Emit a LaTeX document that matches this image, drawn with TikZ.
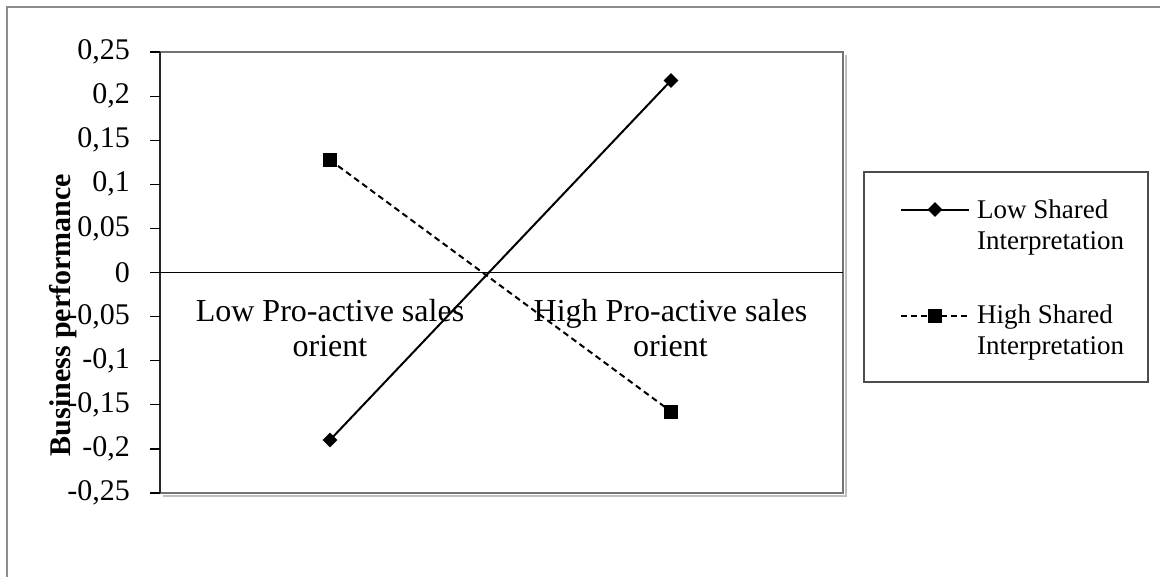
\documentclass[tikz,border=0pt]{standalone}
\usepackage{fontspec}
\setmainfont{Liberation Serif}
\usetikzlibrary{shapes.geometric}
\begin{document}
\begin{tikzpicture}[x=1pt,y=-1pt,
  dia/.style={diamond,fill=black,inner sep=0pt,minimum width=15pt,minimum height=15pt},
  sq/.style={rectangle,fill=black,inner sep=0pt,minimum size=14pt},
  solidser/.style={line width=2pt},
  dashser/.style={line width=2pt,dash pattern=on 6pt off 4pt},
  ticklab/.style={anchor=east,font=\fontsize{30}{32}\selectfont,inner sep=0pt},
  catlab/.style={align=center,font=\fontsize{32}{35}\selectfont,inner sep=0pt},
  legtext/.style={anchor=north west,align=left,font=\fontsize{27}{31}\selectfont,inner sep=0pt},
  frame/.style={draw=black!45,line width=1.5pt}]
\useasboundingbox (0,0) rectangle (1160,576);
\fill[white] (0,0) rectangle (1160,576);
% outer chart frame (runs off the right and bottom edges)
\draw[frame] (1175,7) -- (7,7) -- (7,590);

% plot area with its shadow
\draw[black!25,line width=2pt] (846,55) -- (846,496) -- (163,496);
\draw[black!55,line width=1.5pt] (160,52) rectangle (843,493);
% value axis and ticks
\draw[black!85,line width=1.5pt] (160,52) -- (160,493);
\foreach \k/\t in {0/{0,25},1/{0,2},2/{0,15},3/{0,1},4/{0,05},5/{0},6/{-0,05},7/{-0,1},8/{-0,15},9/{-0,2},10/{-0,25}}{
  \draw[black,line width=1.2pt] (150,52+\k*44.1) -- (160,52+\k*44.1);
  \node[ticklab] (t\k) at (130,52+\k*44.1) {\t};
}
% zero line
\draw[black,line width=1.2pt] (160,272.5) -- (843,272.5);

% axis title
\node[rotate=90,inner sep=0pt,font=\bfseries\fontsize{30}{32}\selectfont] (ytitle) at (63,315) {Business performance};

% category labels
\node[catlab] (c1) at (330,328) {Low Pro-active sales\\orient};
\node[catlab] (c2) at (670.5,328) {High Pro-active sales\\orient};

% data points
\node[dia] (l1) at (330,440) {};
\node[dia] (l2) at (671,80.5) {};
\node[sq] (h1) at (330,160) {};
\node[sq] (h2) at (671,411.5) {};
\draw[solidser] (l1.center) -- (l2.center);
\draw[dashser] (h1.center) -- (h2.center);

% legend
\draw[black!70,line width=1.5pt] (864,172) rectangle (1148,382);
\coordinate (la) at (901,209.5);
\coordinate (lb) at (969,209.5);
\draw[solidser] (la) -- (lb);
\node[dia] (lm1) at (935,209.5) {};
\node[legtext] (lt1) at (977,199.5) {Low Shared\\Interpretation};
\coordinate (lc) at (901,315.5);
\coordinate (ld) at (969,315.5);
\draw[dashser] (lc) -- (ld);
\node[sq] (lm2) at (935,315.5) {};
\node[legtext] (lt2) at (977,305) {High Shared\\Interpretation};
\end{tikzpicture}
\end{document}
